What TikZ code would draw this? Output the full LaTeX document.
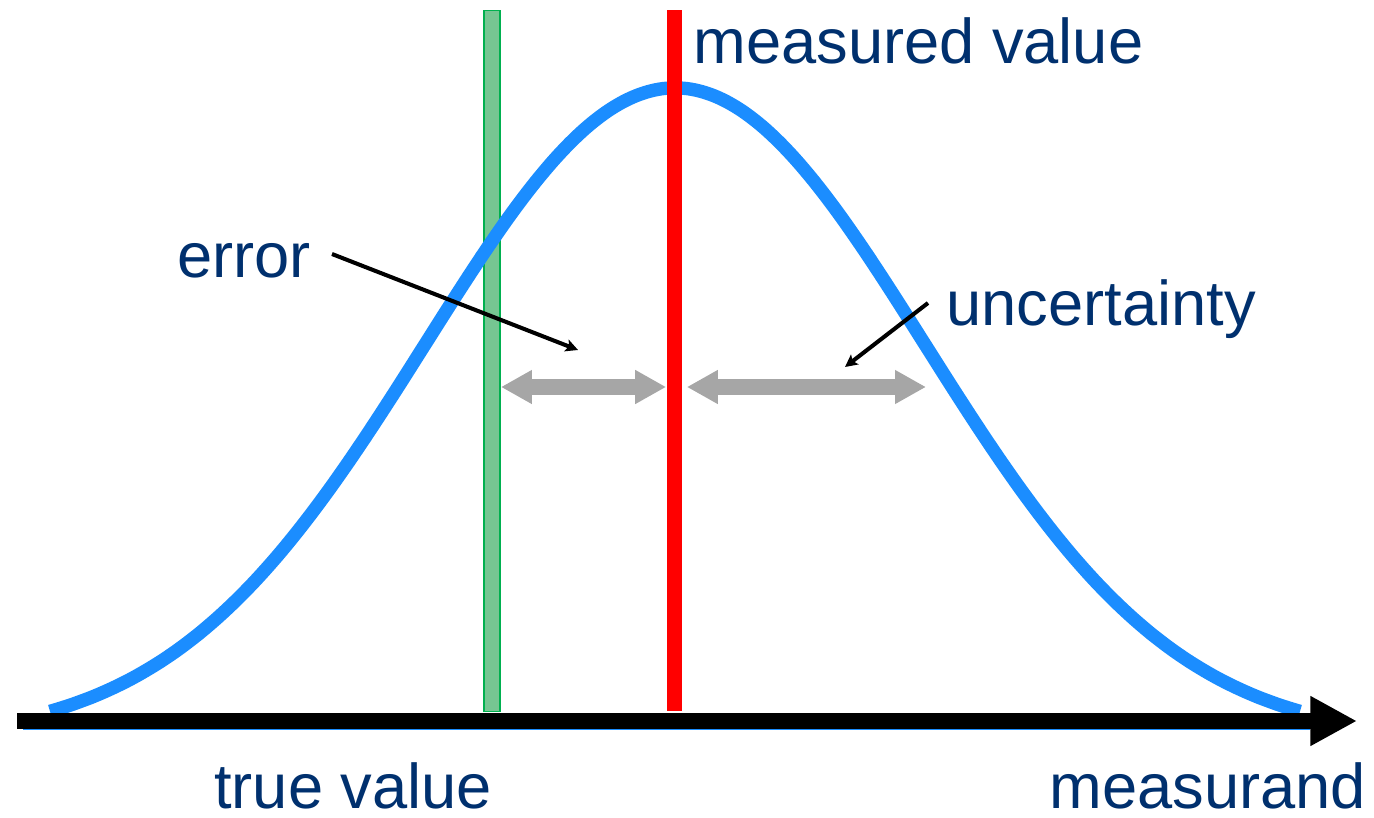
\documentclass[tikz,border=0pt]{standalone}
\usepackage{xcolor}
\usepackage{fontspec}
\setmainfont{Liberation Sans}
\usepackage{tikz}
\usetikzlibrary{arrows.meta}
\definecolor{curveblue}{HTML}{1B8DFF}
\definecolor{labelnavy}{HTML}{00306E}
\definecolor{truegreen}{HTML}{76C692}
\definecolor{trueedge}{HTML}{00B04F}
\definecolor{measred}{HTML}{FF0000}
\definecolor{spangray}{HTML}{A6A6A6}

\tikzset{
  lbl/.style={text=labelnavy, anchor=base west, inner sep=0pt, text depth=0pt,
              font=\fontsize{36}{43}\selectfont},
  bar/.style={minimum width=9.1pt, minimum height=399pt, inner sep=0pt},
  span/.style={draw=spangray, line width=9.5pt,
               {Triangle[length=17.6pt,width=18.1pt]}-{Triangle[length=17.6pt,width=18.1pt]}},
  pointer/.style={draw=black, line width=2.3pt,
                  -{Stealth[length=7pt,width=7pt,inset=1.5pt]}}
}

\begin{document}
\begin{tikzpicture}[x=0.02cm, y=-0.02cm]
    \useasboundingbox (0,0) rectangle (1374,818);

    % true value bar (under the curve)
    \node[bar, fill=truegreen, draw=trueedge, line width=1.1pt] (tv) at (492,361) {};

    % distribution
    \draw[curveblue, line width=1.1pt] (23,729) -- (1310,729);
    \draw[curveblue, line width=7.6pt]
      plot[domain=50:1300, samples=160, smooth] (\x, {740-652*exp(-0.5*((\x-675)/250)^2)});

    % measured value bar
    \node[bar, fill=measred] (mv) at (674.5,360.5) {};

    % spans
    \coordinate (ay) at (0,387);
    \coordinate (uend) at (926,387);
    \draw[span] (tv.east |- ay) -- (mv.west |- ay);
    \draw[span] ([xshift=2.3pt]mv.east |- ay) -- (uend);

    % labels
    \node[lbl] (meas) at (693,63) {measured value};
    \node[lbl] (err) at (177,277) {error};
    \node[lbl] (unc) at (946,325) {uncertainty};
    \node[lbl] (true) at (214,808) {true value};
    \node[lbl] (msd) at (1049,808) {measurand};

    % pointers
    \coordinate (errfrom) at (332,254);
    \coordinate (errto) at (578,350);
    \coordinate (uncfrom) at (928,303);
    \coordinate (uncto) at (845,367);
    \draw[pointer] (errfrom) -- (errto);
    \draw[pointer] (uncfrom) -- (uncto);

    % axis
    \coordinate (ax0) at (17,721);
    \coordinate (ax1) at (1357,721);
    \draw[line width=9.1pt, -{Triangle[length=26.6pt,width=26.6pt]}] (ax0) -- (ax1);
\end{tikzpicture}
\end{document}
